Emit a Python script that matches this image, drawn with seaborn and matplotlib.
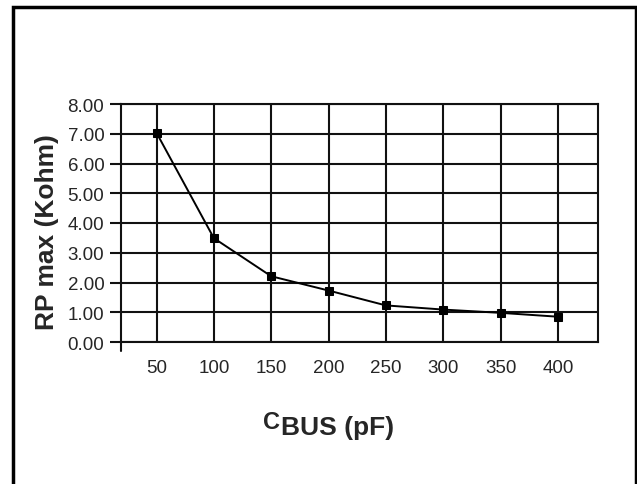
import numpy as np
import matplotlib
matplotlib.use("Agg")
import matplotlib.pyplot as plt
import seaborn as sns

# values
cbus_pf = [50, 100, 150, 200, 250, 300, 350, 400]
rp_max_kohm = [7.03, 3.49, 2.21, 1.73, 1.23, 1.09, 0.98, 0.85]
y_ticks = [0, 1, 2, 3, 4, 5, 6, 7, 8]

sns.set_style("white")
plt.rcParams['font.family'] = ['Liberation Sans', 'DejaVu Sans']

W, H = 637, 485
fig = plt.figure(figsize=(W / 100, H / 100), dpi=100)
ax = fig.add_axes([121 / W, 1 - 343 / H, (598 - 121) / W, (343 - 105) / H])

sns.lineplot(x=cbus_pf, y=rp_max_kohm, ax=ax, color='black', lw=1.4,
             marker='s', markersize=6, markeredgecolor='black')

ax.set_xlim(19, 435)
ax.set_ylim(0, 8)
ax.set_xticks(cbus_pf)
ax.set_xticklabels([str(v) for v in cbus_pf])
ax.set_yticks(y_ticks)
ax.set_yticklabels(["%.2f" % v for v in y_ticks])

ax.grid(True, color='#111111', lw=1.5)
ax.set_axisbelow(True)
for s in ax.spines.values():
    s.set_color('#111111')
    s.set_linewidth(1.5)

ax.tick_params(axis='x', length=0, pad=12, labelsize=13.5)
ax.tick_params(axis='y', left=True, length=8, width=1.5, color='#111111',
               direction='out', pad=4, labelsize=13.5)

# left axis runs on a little below zero, as in the original
ax.plot([0, 0], [0, -0.037], transform=ax.transAxes, color='#111111',
        lw=1.5, clip_on=False)

fig.text(47 / W, 1 - 232 / H, "RP max (Kohm)", rotation=90, ha='center',
         va='center', fontsize=19, fontweight='bold')

# x label: "C" raised, "BUS" on the baseline, like the original
fig.text(280 / W, 1 - 429 / H, "C", ha='right', va='baseline',
         fontsize=17, fontweight='bold')
fig.text(281 / W, 1 - 435 / H, "BUS (pF)", ha='left', va='baseline',
         fontsize=19, fontweight='bold')

# frame around the whole picture (open at the bottom edge)
fig.add_artist(plt.Rectangle((13 / W, -0.05), (635.5 - 13) / W, 1.05 - 8 / H,
                             transform=fig.transFigure, fill=False,
                             lw=2.5, ec='black'))

fig.savefig("out.png", dpi=100)
